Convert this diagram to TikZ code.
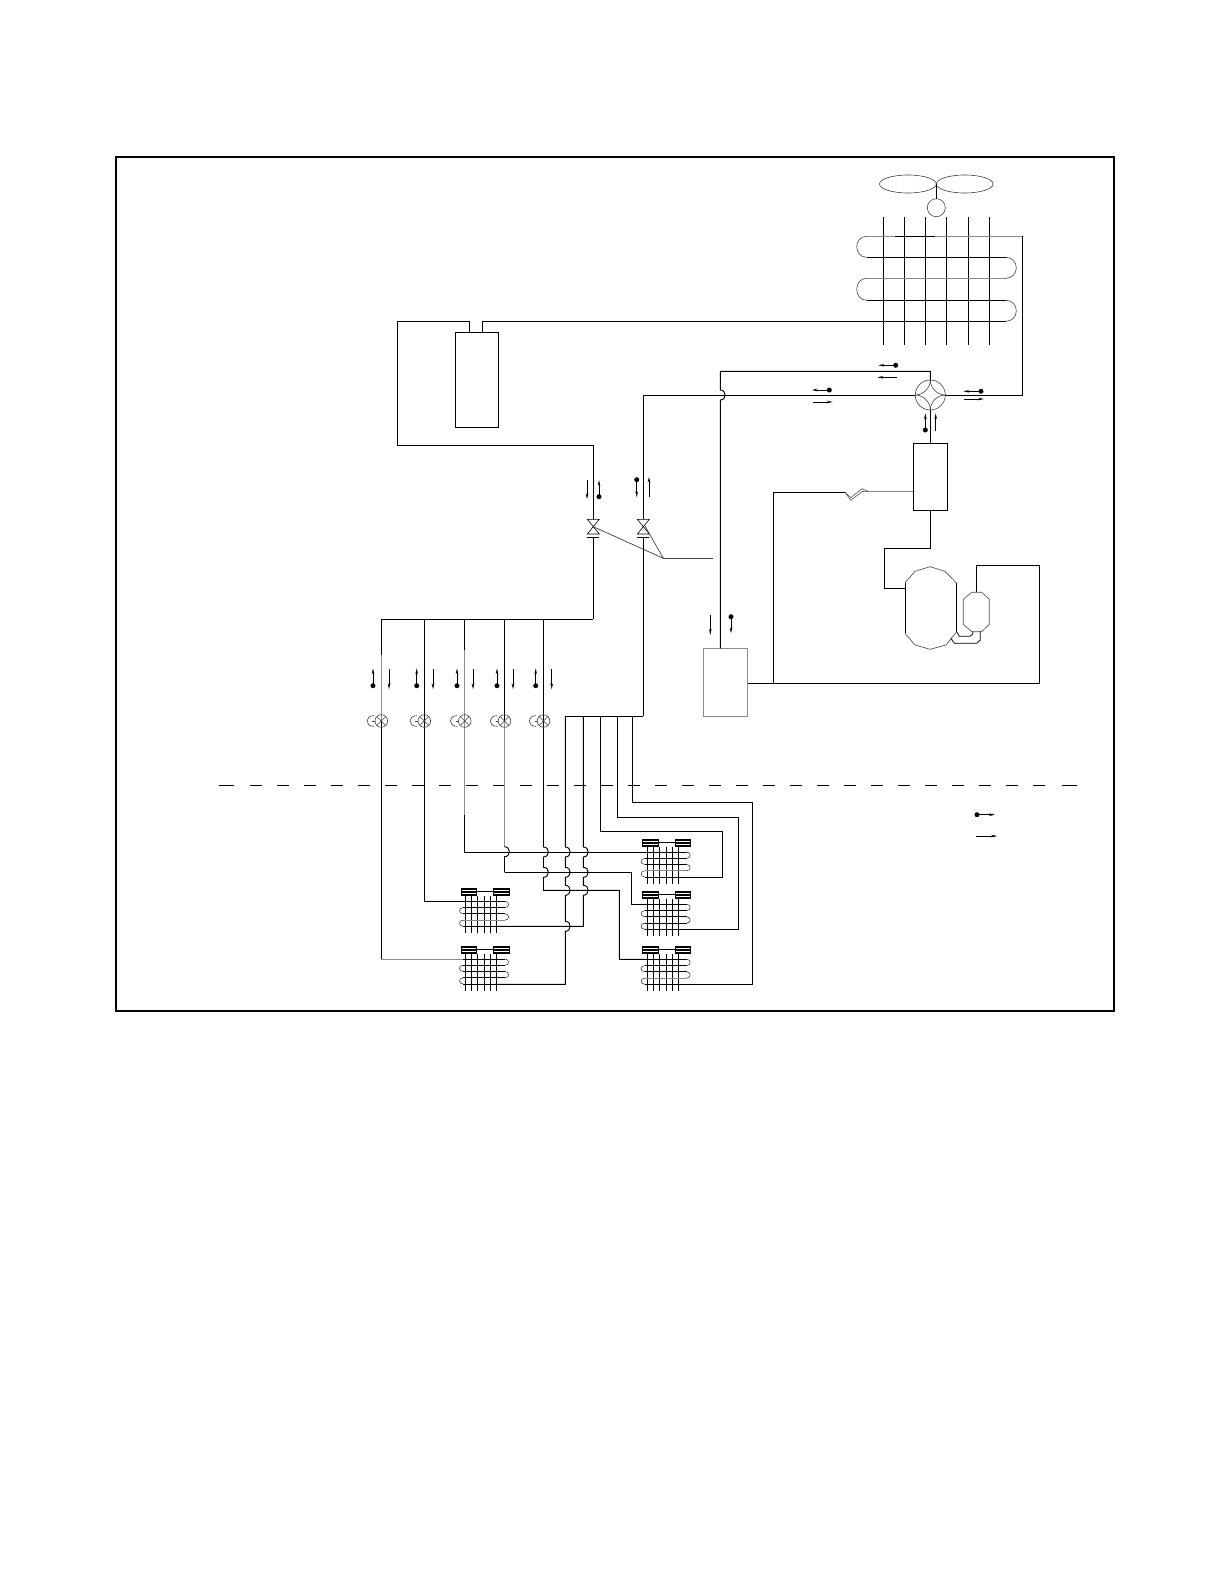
\documentclass[tikz,border=0pt]{standalone}
\usetikzlibrary{arrows.meta}
\tikzset{
  pipe/.style={line width=0.95pt,black,line join=miter},
  gpipe/.style={line width=0.95pt,black!45},
  thin part/.style={line width=0.6pt,black!75},
  flow/.style={line width=0.8pt,-{Stealth[length=6pt,width=2.6pt]}},
  boxnode/.style={draw=black,line width=0.95pt,fill=none,inner sep=0pt,outer sep=0pt,rectangle},
  tanknode/.style={draw=black!45,line width=0.95pt,inner sep=0pt,outer sep=0pt,rectangle},
  roundpart/.style={draw=black!75,line width=0.6pt,inner sep=0pt,outer sep=0pt,circle}
}
% jump of a vertical pipe over a horizontal one (path fragment)
\newcommand\bmp[2]{-- (#1,#2-5) .. controls (#1+6.5,#2-5) and (#1+6.5,#2+5) .. (#1,#2+5)}
\newcommand\dotflow[4]{\fill (#1,#2) circle (2.5); \draw[flow] (#1,#2) -- (#3,#4);}
\newcommand\plainflow[4]{\draw[flow] (#1,#2) -- (#3,#4);}
% expansion valve on a pipe at x=#1
\newcommand\expvalve[1]{
  \begin{scope}[shift={(#1,721)}]
    \draw[thin part] (0,0) circle (6.3);
    \draw[thin part] (-4.4,-4.4) -- (4.4,4.4) (-4.4,4.4) -- (4.4,-4.4);
    \draw[thin part] (-7.5,-5.3) .. controls (-16.5,-5.6) and (-16.5,5.6) .. (-7.5,5.3);
    \draw[thin part] (-9,0) -- (-6.3,0);
  \end{scope}}
% stop valve on a pipe at x=#1
\newcommand\stopvalve[1]{
  \draw[line width=0.6pt] (#1-6,519.3) -- (#1+6,519.3) -- (#1-6,534) -- (#1+6,534) -- cycle;
  \draw[line width=0.95pt] (#1-6,537.3) -- (#1+6,537.3);}
% coil: first fin x, top row y, colour of fourth row
\newcommand\smallheader[2]{
  \fill[black] (#1,#2-13.5) rectangle ++(16.3,8);
  \draw[white,line width=0.45pt] (#1+0.9,#2-11) -- ++(14.5,0) (#1+0.9,#2-8.2) -- ++(14.5,0);}
\newcommand\smallcoil[3]{
  \begin{scope}[shift={(#1,#2)}]
    \smallheader{-5}{0}
    \smallheader{27.7}{0}
    \draw[line width=0.7pt] (11.3,-10) -- (27.7,-10);
    \foreach \fx in {0,5.7,11.7,18.7,24.7,31}{\draw[pipe] (\fx,-5.5) -- (\fx,32);}
    \draw[pipe] (-2.3,6.25) -- (39.4,6.25);
    \draw[pipe] (-2.3,12.5) -- (39.4,12.5);
    \draw[pipe] (-2.3,25) -- (39.4,25);
    \draw[pipe] (-2.3,0) -- (39.4,0);
    \draw[line width=0.95pt,#3] (-2.3,18.75) -- (39.4,18.75);
    \draw[thin part] (39.4,0) .. controls (44,0) and (44,6.25) .. (39.4,6.25);
    \draw[thin part] (39.4,12.5) .. controls (44,12.5) and (44,18.75) .. (39.4,18.75);
    \draw[thin part] (-2.3,6.25) .. controls (-7.5,6.25) and (-7.5,12.5) .. (-2.3,12.5);
    \draw[thin part] (-2.3,18.75) .. controls (-7.5,18.75) and (-7.5,25) .. (-2.3,25);
  \end{scope}}
\begin{document}
\begin{tikzpicture}[x=1pt,y=-1pt]
\useasboundingbox (0,0) rectangle (1224,1584);
% frame
\draw[line width=2pt,black] (115.7,157) rectangle (1114,1010.7);
% boundary line
\draw[line width=0.95pt] (219,785) -- (234,785);
\foreach \k in {0,...,29}{\draw[line width=0.95pt] (250+27*\k,785) -- ++(12,0);}
\draw[line width=0.95pt] (1062,785) -- (1077,785);

% ---- outdoor coil and fan
\foreach \fx in {883.3,904.3,925.3,946.7,968.3,989.3}{\draw[pipe] (\fx,216.7) -- (\fx,344.7);}
\node[roundpart,minimum size=18pt] (motor) at (936.3,207.7) {};
\coordinate (hub) at (936.3,184);
\draw[line width=0.6pt,black!75] (hub) arc[start angle=0,end angle=360,x radius=28.4,y radius=9];
\draw[line width=0.6pt,black!75] (hub) arc[start angle=180,end angle=540,x radius=28.4,y radius=9];
\draw[pipe] (hub) -- (motor.north);
\coordinate (cTopL) at (866.7,236.3);
\coordinate (cTopR) at (1022.3,236.3);
\draw[gpipe] (cTopL) -- (cTopR);
\draw[pipe] (895,236.3) -- (935,236.3);
\draw[pipe] (866.7,257.3) -- (1005.7,257.3);
\draw[gpipe] (866.7,278.3) -- (1005.7,278.3);
\draw[pipe] (866.7,300.3) -- (1005.7,300.3);
\draw[thin part] (866.7,236.3) .. controls (853.4,236.3) and (853.4,257.3) .. (866.7,257.3);
\draw[thin part] (866.7,278.3) .. controls (853.4,278.3) and (853.4,300.3) .. (866.7,300.3);
\draw[thin part] (1005.7,257.3) .. controls (1019.8,257.3) and (1019.8,278.3) .. (1005.7,278.3);
\draw[thin part] (1005.7,300.3) .. controls (1019.8,300.3) and (1019.8,321.3) .. (1005.7,321.3);

% ---- equipment
\node[boxnode,minimum width=43.4pt,minimum height=95pt] (recv) at (477.2,379.8) {};
\node[boxnode,minimum width=34pt,minimum height=67pt] (sep) at (930.3,476.8) {};
\node[tanknode,minimum width=43.7pt,minimum height=68pt] (tank) at (725.8,682.3) {};
\node[roundpart,minimum size=30pt] (fv) at (930.3,395) {};
\coordinate (recvL) at (469.6,332.3);
\coordinate (recvR) at (482.7,332.3);
\coordinate (sepCap) at (913.3,491.7);

% four-way valve star
\draw[thin part] (fv.north) .. controls (930.3,388) and (937.3,395) .. (fv.east);
\draw[thin part] (fv.east) .. controls (937.3,395) and (930.3,402) .. (fv.south);
\draw[thin part] (fv.south) .. controls (930.3,402) and (923.3,395) .. (fv.west);
\draw[thin part] (fv.west) .. controls (923.3,395) and (930.3,388) .. (fv.north);

% ---- main pipes
\draw[pipe] (recvR) -- (482.7,321.3) -- (1005.7,321.3);
\draw[pipe] (recvL) -- (469.6,321.3) -- (397.6,321.3) -- (397.6,445.4) -- (593.3,445.4) -- (593.3,519.3);
\draw[pipe] (fv.east) -- (1022.3,395) -- (cTopR);
\draw[pipe] (fv.north) -- (930.3,371.3) -- (720.3,371.3) \bmp{720.3}{395} -- (720.3,648.3);
\draw[pipe] (fv.west) -- (643.3,395) -- (643.3,519.3);
\draw[pipe] (sep.north) -- (fv.south);
\draw[pipe] (sep.south) -- (930.3,548.3) -- (884.3,548.3) -- (884.3,588.3) -- (905,588.3);
% capillary
\draw[pipe] (773.3,683.3) -- (773.3,492) -- (845,492);
\draw[line width=0.6pt,black!70] (845,492) -- (850.7,497.7) -- (862,488.7) -- (869,491.7);
\draw[line width=0.6pt,black!70] (845,492) -- (850.7,500.3) -- (862.3,491.5) -- (869,491.7);
\draw[gpipe] (869,491.7) -- (sepCap);
% suction
\draw[pipe] (tank.east) ++(0,1) -- (1039.7,683.3) -- (1039.7,565.3) -- (976.3,565.3) -- (976.3,592.3);
% compressor and accumulator
\draw[line width=0.65pt,black!70] (905,582.7) -- (915,571.3) -- (930,566.7) -- (945,571.3) -- (956.7,583.3);
\draw[line width=0.65pt,black!70] (956.7,631.7) -- (946,645) -- (930,649.3) -- (915,645) -- (905,633.3);
\draw[pipe] (905,582.7) -- (905,633.3) (956.7,583.3) -- (956.7,631.7);
\draw[line width=0.65pt,black!70] (971.7,592.3) -- (981.7,592.3) -- (989.3,599.3) -- (989.3,624.3) -- (981.7,631.7) -- (971.7,631.7) -- (963.3,624.3) -- (963.3,599.3) -- cycle;
\draw[line width=0.75pt] (956.7,631.7) -- (959.3,636.3) -- (970,636.3) -- (972.7,634) -- (972.7,631.7);
\draw[line width=0.75pt] (951,638.3) -- (954.3,643.3) -- (976.7,643.3) -- (980.3,640) -- (980.3,631.7);

% ---- stop valves
\stopvalve{593.3}
\stopvalve{643.3}
\draw[line width=0.7pt,black!75] (593.3,526.7) -- (663.3,558.3) -- (645,526);
\draw[line width=0.7pt,black!75] (663.3,558.3) -- (712.7,558.3);
\draw[pipe] (593.3,537.3) -- (593.3,619);
\draw[pipe] (643.3,537.3) -- (643.3,716.3);

% ---- liquid side
\draw[pipe] (593.3,619) -- (381.3,619);
\draw[pipe] (381.3,619) -- (381.3,655);
\draw[gpipe] (381.3,655) -- (381.3,721);
\draw[pipe] (381.3,721) -- (381.3,959);
\draw[gpipe] (381.3,959) -- (464,959);
\draw[pipe] (424.3,619) -- (424.3,901.3) -- (465,901.3);
\draw[pipe] (464.7,619) -- (464.7,650);
\draw[gpipe] (464.7,650) -- (464.7,815);
\draw[pipe] (464.7,815) -- (464.7,852) -- (645,852);
\draw[pipe] (504.5,619) -- (504.5,721);
\draw[gpipe] (504.5,721) -- (504.5,846.7);
\draw[pipe] (504.5,846.7) .. controls (511,846.7) and (511,856.7) .. (504.5,856.7) -- (504.5,872.3);
\draw[pipe] (504.5,872.3) -- (631.3,872.3) -- (631.3,904.3) -- (645,904.3);
\draw[pipe] (543.5,619) -- (543.5,847) .. controls (550,847) and (550,857) .. (543.5,857) -- (543.5,867.3) .. controls (550,867.3) and (550,877.3) .. (543.5,877.3) -- (543.5,890.3) -- (619.3,890.3) -- (619.3,959.3) -- (645,959.3);
\foreach \vx in {381.3,424.3,464.7,504.5,543.5}{\expvalve{\vx}}

% ---- gas side
\draw[pipe] (565.3,716.3) -- (643.3,716.3);
\draw[pipe] (565.3,716.3) \bmp{565.3}{852} \bmp{565.3}{872.3} \bmp{565.3}{890.3} \bmp{565.3}{926.3} -- (565.3,984.3) -- (495,984.3);
\draw[pipe] (583.3,716.3) \bmp{583.3}{852} \bmp{583.3}{872.3} \bmp{583.3}{890.3} -- (583.3,926.3) -- (495,926.3);
\draw[pipe] (600.3,716.3) -- (600.3,831.3) -- (722.7,831.3) -- (722.7,877.3) -- (678,877.3);
\draw[pipe] (617.3,716.3) -- (617.3,817.3) -- (738.3,817.3) -- (738.3,929.3) -- (678,929.3);
\draw[pipe] (632.3,716.3) -- (632.3,802.3) -- (752.3,802.3) -- (752.3,984.3) -- (678,984.3);

% ---- indoor coils
\smallcoil{465.7}{901.3}{black!45}
\smallcoil{465.7}{959}{black}
\smallcoil{647.3}{852}{black!45}
\smallcoil{647.3}{904.3}{black}
\smallcoil{647.3}{959.3}{black!45}

% ---- flow arrows
\dotflow{895.7}{365.3}{878.3}{365.3}
\plainflow{896.7}{377.3}{877.3}{377.3}
\dotflow{829.3}{390}{811.7}{390}
\plainflow{813.3}{402}{832.7}{402}
\dotflow{981}{391.3}{963.3}{391.3}
\plainflow{964.3}{399}{984}{399}
\dotflow{925.3}{430}{925.3}{413.3}
\plainflow{935.7}{431}{935.7}{413.3}
\plainflow{587}{480}{587}{499.3}
\dotflow{599}{496.7}{599}{480}
\dotflow{636.7}{479.7}{636.7}{497.3}
\plainflow{649}{496.7}{649}{476.7}
\plainflow{710.3}{615}{710.3}{635}
\dotflow{731}{616.7}{731}{633.3}
\dotflow{373}{685.7}{373}{668.3}
\plainflow{389}{669}{389}{689.3}
\dotflow{416.7}{685.7}{416.7}{668.3}
\plainflow{433}{669}{433}{689.3}
\dotflow{457}{685.7}{457}{668.3}
\plainflow{473}{669}{473}{689.3}
\dotflow{497}{685.7}{497}{668.3}
\plainflow{513}{669}{513}{689.3}
\dotflow{535.7}{685.7}{535.7}{668.3}
\plainflow{551.7}{669}{551.7}{689.3}
\dotflow{977}{814.7}{995}{814.7}
\plainflow{976}{836}{997.3}{836}
\end{tikzpicture}
\end{document}
